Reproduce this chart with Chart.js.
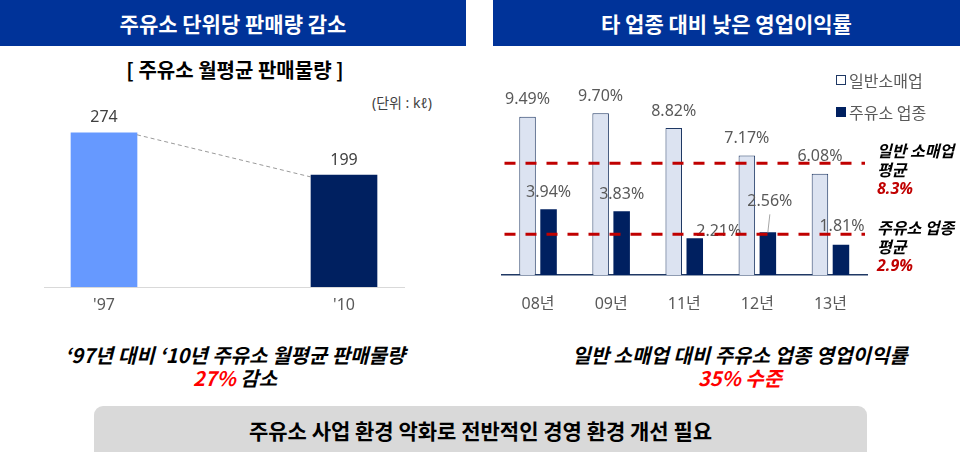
<!DOCTYPE html>
<html><head><meta charset="utf-8">
<script src="https://cdn.jsdelivr.net/npm/chart.js@4/dist/chart.umd.min.js"></script>
<style>
html,body{margin:0;padding:0;background:#fff;width:972px;height:452px;overflow:hidden;font-family:"Noto Sans CJK KR","Noto Sans",sans-serif;}
.abs{position:absolute;}
.hdr{position:absolute;top:0;height:46px;background:#003399;color:#fff;font-weight:bold;font-size:21px;display:flex;align-items:center;justify-content:center;}
.sub{font-weight:bold;font-size:20px;color:#000;}
.unit{font-size:14px;color:#404040;font-family:"Noto Sans","Noto Sans CJK KR",sans-serif;}
.leg{font-size:16px;color:#595959;line-height:20px;white-space:nowrap;}
.sq{position:absolute;width:10px;height:10px;box-sizing:border-box;}
.ann{font-size:16px;font-weight:bold;font-style:italic;line-height:18.5px;color:#000;white-space:nowrap;}
.ann .r{color:#c00000;font-family:"Noto Sans","Noto Sans CJK KR",sans-serif;}
.bt{font-size:20px;font-weight:bold;font-style:italic;line-height:23px;text-align:center;color:#000;white-space:nowrap;}
.red{color:#ff0000;}
.box{position:absolute;left:94px;top:406px;width:773px;height:60px;border-radius:9px;background:#d9d9d9;}
.boxt{position:absolute;left:94px;top:406px;width:773px;height:48px;line-height:48px;text-align:center;font-size:21px;font-weight:bold;color:#000;}
</style></head>
<body>
<div class="hdr" style="left:0;width:466px;">주유소 단위당 판매량 감소</div>
<div class="hdr" style="left:493px;width:467px;">타 업종 대비 낮은 영업이익률</div>
<div class="abs sub" style="left:0;width:470px;top:55px;text-align:center;">[ 주유소 월평균 판매물량 ]</div>
<div class="abs unit" style="left:372px;top:92px;">(단위 : kℓ)</div>

<div class="abs" style="left:0;top:90px;width:480px;height:230px;"><canvas id="c1" width="480" height="230"></canvas></div>
<div class="abs" style="left:480px;top:80px;width:492px;height:235px;"><canvas id="c2" width="492" height="235"></canvas></div>

<div class="sq" style="left:836px;top:75px;border:1px solid #1f3864;background:#fff;"></div>
<div class="abs leg" style="left:849px;top:70px;">일반소매업</div>
<div class="sq" style="left:836px;top:107px;background:#002060;"></div>
<div class="abs leg" style="left:849px;top:102px;">주유소 업종</div>

<div class="abs ann" style="left:877px;top:141px;">일반 소매업<br>평균<br><span class="r">8.3%</span></div>
<div class="abs ann" style="left:877px;top:218px;">주유소 업종<br>평균<br><span class="r">2.9%</span></div>

<div class="abs bt" style="left:0;width:470px;top:343px;">‘97년 대비 ‘10년 주유소 월평균 판매물량<br><span class="red">27%</span> 감소</div>
<div class="abs bt" style="left:505px;width:470px;top:343px;">일반 소매업 대비 주유소 업종 영업이익률<br><span class="red">35% 수준</span></div>

<div class="box"></div>
<div class="boxt">주유소 사업 환경 악화로 전반적인 경영 환경 개선 필요</div>

<script>
// ---- data ----
const leftYears = ["'97", "'10"];
const leftVolumes = [274, 199];

const rightYears = ["08년", "09년", "11년", "12년", "13년"];
const retailMargins = [9.49, 9.70, 8.82, 7.17, 6.08];
const stationMargins = [3.94, 3.83, 2.21, 2.56, 1.81];
// average reference lines, positioned as drawn in the picture (labelled 8.3% / 2.9%)
const avgLineLevels = [6.7, 2.45];

const FONT = '"Noto Sans", "Noto Sans CJK KR", sans-serif';

// ---- left chart ----
const leftValueLabels = {
  id: 'leftValueLabels',
  afterDatasetsDraw(chart) {
    const ctx = chart.ctx;
    const meta = chart.getDatasetMeta(0);
    const els = meta.data;
    ctx.save();
    if (els.length === 2) {
      const a = els[0], b = els[1];
      ctx.strokeStyle = '#9a9a9a';
      ctx.lineWidth = 1;
      ctx.setLineDash([4, 3]);
      ctx.beginPath();
      ctx.moveTo(a.x + a.width / 2, a.y + 2);
      ctx.lineTo(b.x - b.width / 2, b.y + 2);
      ctx.stroke();
      ctx.setLineDash([]);
    }
    ctx.fillStyle = '#404040';
    ctx.font = '16px ' + FONT;
    ctx.textAlign = 'center';
    ctx.textBaseline = 'middle';
    els.forEach((el, i) => {
      ctx.fillText(String(leftVolumes[i]), el.x, el.y - 15);
    });
    ctx.restore();
  }
};

new Chart(document.getElementById('c1'), {
  type: 'bar',
  data: {
    datasets: [{
      data: leftVolumes.map((v, i) => ({ x: i, y: v })),
      backgroundColor: ['#6699ff', '#002060'],
      barThickness: 66
    }]
  },
  options: {
    responsive: false,
    animation: false,
    layout: { padding: { left: 44, right: 76, top: 0, bottom: 0 } },
    plugins: { legend: { display: false }, tooltip: { enabled: false } },
    scales: {
      x: {
        type: 'linear', min: -0.25, max: 1.25, offset: false,
        afterBuildTicks: s => { s.ticks = leftYears.map((_, i) => ({ value: i })); },
        afterFit: s => { s.height = 33; },
        grid: { display: false, drawTicks: false },
        border: { display: true, color: '#d9d9d9', width: 1 },
        ticks: { padding: 9, color: '#595959', font: { family: FONT, size: 16 },
                 callback: v => leftYears[v] }
      },
      y: { display: false, min: 0, max: 350 }
    }
  },
  plugins: [leftValueLabels]
});

// ---- right chart ----
const labelOffsets = {
  '1-2': { dx: 24, dy: -7 },
  '1-3': { dx: 2, dy: -31, leader: true },
  '1-4': { dx: 1, dy: -18 }
};

const rightOverlay = {
  id: 'rightOverlay',
  afterDatasetsDraw(chart) {
    const ctx = chart.ctx;
    const series = [retailMargins, stationMargins];
    ctx.save();
    ctx.font = '16px ' + FONT;
    ctx.textAlign = 'center';
    ctx.textBaseline = 'middle';
    series.forEach((vals, d) => {
      const meta = chart.getDatasetMeta(d);
      meta.data.forEach((el, i) => {
        const o = labelOffsets[d + '-' + i] || { dx: 0, dy: -17 };
        const tx = el.x + o.dx, ty = el.y + o.dy;
        if (o.leader) {
          ctx.strokeStyle = '#a6a6a6';
          ctx.lineWidth = 1;
          ctx.beginPath();
          ctx.moveTo(tx, ty + 13);
          ctx.lineTo(el.x, el.y);
          ctx.stroke();
        }
        ctx.fillStyle = '#595959';
        ctx.fillText(vals[i].toFixed(2) + '%', tx, ty);
      });
    });
    const y = chart.scales.y;
    const area = chart.chartArea;
    ctx.strokeStyle = '#c00000';
    ctx.lineWidth = 3;
    ctx.setLineDash([11, 10]);
    avgLineLevels.forEach(v => {
      const py = y.getPixelForValue(v);
      ctx.beginPath();
      ctx.moveTo(area.left + 3, py);
      ctx.lineTo(area.right - 2, py);
      ctx.stroke();
    });
    ctx.restore();
  }
};

new Chart(document.getElementById('c2'), {
  type: 'bar',
  data: {
    labels: rightYears,
    datasets: [
      { label: '일반소매업', data: retailMargins, backgroundColor: '#dce3f1',
        borderColor: '#1f3864', borderWidth: 1,
        categoryPercentage: 0.575, barPercentage: 0.786 },
      { label: '주유소 업종', data: stationMargins, backgroundColor: '#002060',
        categoryPercentage: 0.575, barPercentage: 0.786 }
    ]
  },
  options: {
    responsive: false,
    animation: false,
    layout: { padding: { left: 21.5, right: 105, top: 0, bottom: 0 } },
    plugins: { legend: { display: false }, tooltip: { enabled: false } },
    scales: {
      x: {
        offset: true,
        afterFit: s => { s.height = 40; },
        grid: { display: false, drawTicks: false },
        border: { display: true, color: '#1f3864', width: 1.5 },
        ticks: { padding: 20, color: '#595959', font: { family: FONT, size: 16 } }
      },
      y: { display: false, min: 0, max: 11.7 }
    }
  },
  plugins: [rightOverlay]
});
</script>
</body></html>
